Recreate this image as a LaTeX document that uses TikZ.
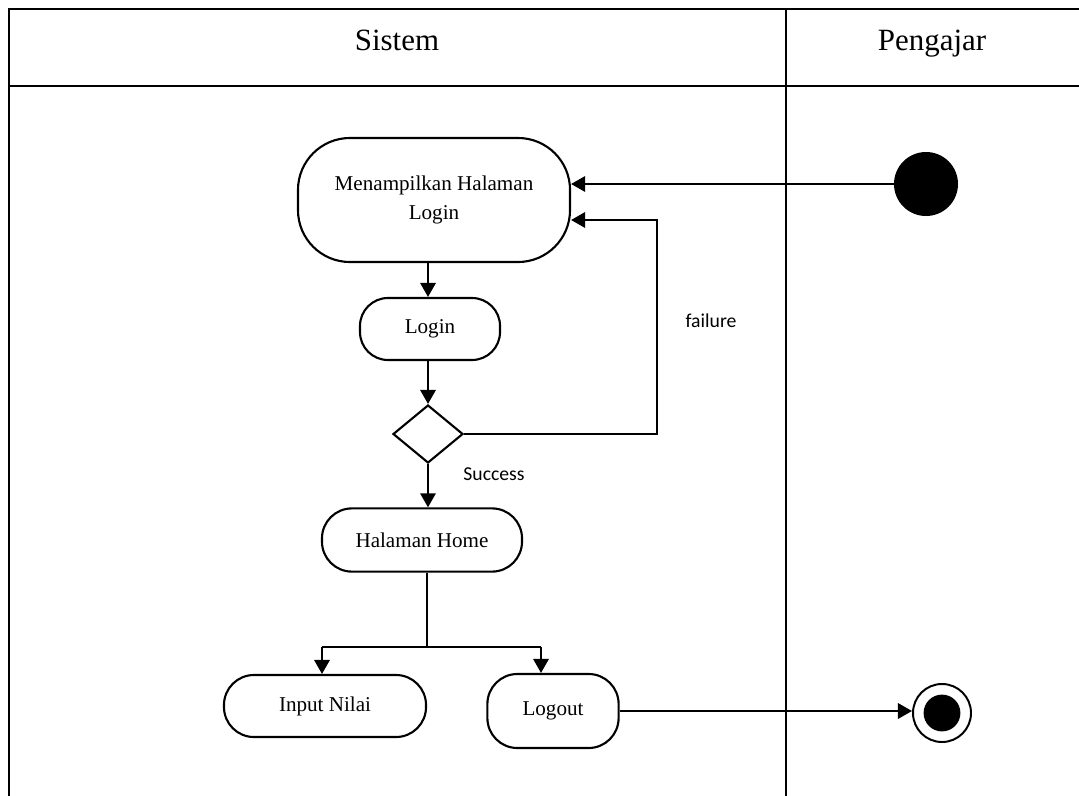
\documentclass[tikz,border=0pt]{standalone}
\usepackage{fontspec}
\setmainfont{Liberation Serif}
\newfontfamily\calibri{Carlito}
\usetikzlibrary{shapes.geometric,arrows.meta}

\begin{document}
\begin{tikzpicture}[x=0.025cm, y=-0.025cm, >={Triangle[length=10pt,width=11pt]},
    act/.style={draw, line width=1.5pt, align=center, inner sep=2pt, font=\fontsize{15}{20}\selectfont},
    flow/.style={->, line width=1.4pt},
    lane/.style={line width=2pt},
    head/.style={anchor=base, font=\fontsize{22}{26}\selectfont},
    lbl/.style={font=\calibri\fontsize{14}{16}\selectfont}]
    \useasboundingbox (0,0) rectangle (1079,796);
    % swimlane
    \draw[lane] (9,796) -- (9,9) -- (1079,9);
    \draw[lane] (9,86) -- (1079,86);
    \draw[lane] (786,9) -- (786,796);
    \node[head] (sistem) at (397,50) {Sistem};
    \node[head] (pengajar) at (932,50) {Pengajar};

    % aktivitas
    \node[act, rounded corners=1.3cm, minimum width=6.8cm, minimum height=3.1cm] (tampil) at (434,200) {Menampilkan Halaman\\Login};
    \node[act, rounded corners=0.7cm, minimum width=3.5cm, minimum height=1.55cm] (login) at (430,329) {Login};
    \node[draw, diamond, line width=1.5pt, inner sep=0pt, minimum width=1.75cm, minimum height=1.45cm] (cek) at (428,434) {};
    \node[act, rounded corners=0.75cm, minimum width=5cm, minimum height=1.58cm] (home) at (422,540) {Halaman Home};
    \node[act, rounded corners=0.75cm, minimum width=5.05cm, minimum height=1.55cm] (input) at (325,706) {Input Nilai};
    \node[act, rounded corners=0.75cm, minimum width=3.28cm, minimum height=1.85cm] (logout) at (553,711) {Logout};

    % awal dan akhir
    \node[circle, fill, inner sep=0pt, minimum size=1.6cm] (mulai) at (926,184) {};
    \node[circle, draw, line width=1.4pt, inner sep=0pt, minimum size=1.45cm] (selesai) at (942,713) {};
    \node[circle, fill, inner sep=0pt, minimum size=0.92cm] (titik) at (942,713) {};

    \node[lbl] (gagal) at (711,321) {failure};
    \node[lbl] (sukses) at (494,474) {Success};

    \coordinate (belok) at (657,220);
    \coordinate (cabang) at (427,647);
    \coordinate (kiri) at (322,647);
    \coordinate (kanan) at (541,647);

    % alur
    \draw[flow] (mulai.west) -- (mulai.west -| tampil.east);
    \draw[flow] (tampil.south -| cek) -- (cek |- login.north);
    \draw[flow] (cek |- login.south) -- (cek);
    \draw[flow] (cek) -- (cek |- home.north);
    \draw[flow] (cek.east) -| (belok) -- (belok -| tampil.east);
    \draw[line width=1.4pt] (home.south -| cabang) -- (cabang);
    \draw[line width=1.4pt] (kiri) -- (kanan);
    \draw[flow] (kiri) -- (kiri |- input.north);
    \draw[flow] (kanan) -- (kanan |- logout.north);
    \draw[flow] (logout.east) -- (logout.east -| selesai.west);
\end{tikzpicture}
\end{document}
